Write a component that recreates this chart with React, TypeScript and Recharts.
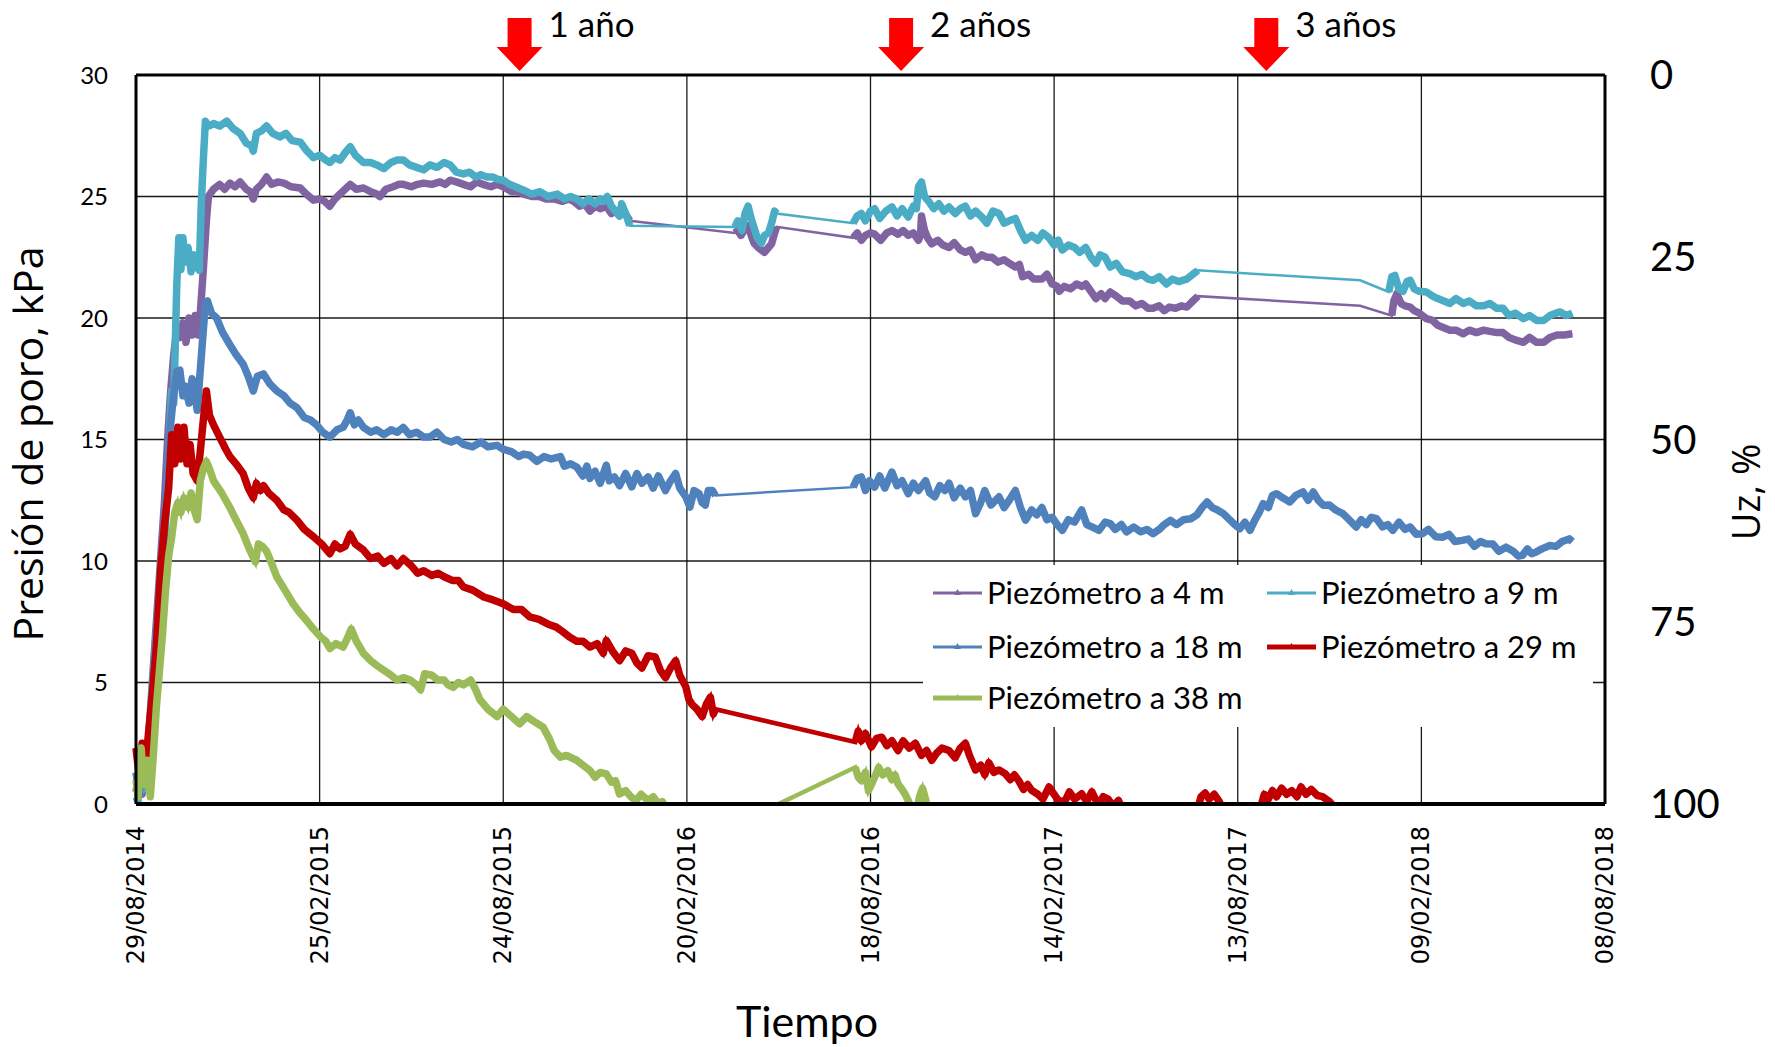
import React from 'react';
import { LineChart, Line, XAxis, YAxis, CartesianGrid, ReferenceDot, ReferenceLine } from 'recharts';

type Pt = [number, number];

// X axis: days since 29/08/2014 (Excel major unit 180 days)
const xTicks = [0, 180, 360, 540, 720, 900, 1080, 1260, 1440];
const xTickLabels = ['29/08/2014', '25/02/2015', '24/08/2015', '20/02/2016', '18/08/2016', '14/02/2017', '13/08/2017', '09/02/2018', '08/08/2018'];
const yTicks = [0, 5, 10, 15, 20, 25, 30];
const uzTicks = [0, 25, 50, 75, 100];

const arrowMarks = [
  { day: 376, label: '1 año' },
  { day: 750, label: '2 años' },
  { day: 1108, label: '3 años' },
];

// Piezómetro a 4 m (segments of continuous logging)
const p4Seg1: Pt[] = [[0,0.5],[3,1.2],[6,0.4],[9,1.5],[12,2.5],[16,5.0],[20,7.5],[24,10.0],[28,12.5],[31,15.0],[34,17.0],[37,18.5],[40,19.5],[43,19.2],[46,19.8],[49,19.0],[52,20.0],[55,19.3],[58,20.1],[61,19.3],[63,20.2],[66,22.0],[69,24.0],[71,25.0],[76,25.3],[82,25.5],[87,25.3],[92,25.55],[97,25.4],[102,25.6],[108,25.3],[112,25.2],[115,24.9],[118,25.3],[123,25.5],[128,25.8],[133,25.5],[139,25.6],[145,25.55],[152,25.4],[161,25.35],[167,25.1],[174,24.85],[180,24.9],[185,24.8],[190,24.6],[195,24.9],[200,25.1],[205,25.3],[210,25.5],[216,25.3],[223,25.35],[230,25.2],[236,25.1],[239,25.0],[245,25.3],[252,25.4],[258,25.5],[262,25.5],[270,25.4],[276,25.5],[282,25.55],[290,25.5],[298,25.6],[303,25.5],[308,25.67],[314,25.6],[321,25.5],[328,25.4],[334,25.6],[340,25.5],[348,25.4],[354,25.5],[360,25.4],[368,25.2],[374,25.2],[380,25.1],[388,25.0],[395,25.0],[402,24.9],[410,24.9],[418,24.8],[424,24.9],[429,24.8],[435,24.6],[440,24.7],[445,24.4],[450,24.6],[455,24.5],[461,24.6],[466,24.3],[470,24.4],[474,24.2],[478,24.4],[484,24.0]];
const p4Seg2: Pt[] = [[587,23.5],[590,23.6],[593,23.4],[596,23.6],[600,23.8],[603,23.4],[606,23.07],[610,22.9],[613,22.8],[616,22.7],[620,22.9],[623,23.05],[626,23.5],[628,23.75]];
const p4Seg3: Pt[] = [[703,23.3],[707,23.5],[711,23.2],[715,23.4],[720,23.5],[724,23.45],[730,23.2],[736,23.5],[741,23.6],[747,23.45],[752,23.6],[757,23.4],[762,23.5],[767,23.2],[769,23.4],[770,24.2],[773,23.6],[776,23.3],[780,23.05],[786,23.2],[791,23.0],[797,22.9],[802,23.1],[808,22.8],[813,22.7],[818,22.8],[823,22.4],[829,22.6],[834,22.5],[839,22.5],[845,22.3],[851,22.4],[856,22.25],[862,22.1],[866,22.2],[869,21.7],[875,21.8],[880,21.6],[888,21.6],[893,21.8],[898,21.4],[903,21.3],[905,21.1],[910,21.3],[916,21.2],[922,21.4],[927,21.3],[931,21.4],[936,21.1],[941,20.8],[946,21.0],[950,20.8],[955,21.07],[961,20.9],[967,20.7],[974,20.7],[980,20.5],[986,20.6],[992,20.4],[997,20.4],[1003,20.5],[1008,20.3],[1013,20.45],[1019,20.4],[1025,20.5],[1030,20.45],[1036,20.7],[1041,20.9]];
const p4Seg4: Pt[] = [[1200,20.5]];
const p4Seg5: Pt[] = [[1231,20.1],[1233,20.7],[1236,21.0],[1240,20.6],[1244,20.5],[1249,20.45],[1253,20.3],[1258,20.2],[1265,19.97],[1271,19.9],[1276,19.7],[1282,19.6],[1288,19.5],[1294,19.5],[1301,19.35],[1307,19.5],[1314,19.4],[1321,19.5],[1327,19.45],[1334,19.4],[1340,19.4],[1346,19.2],[1352,19.1],[1360,19.0],[1366,19.2],[1373,19.0],[1380,19.0],[1386,19.2],[1393,19.3],[1400,19.3],[1408,19.35]];

// Piezómetro a 9 m
const p9Seg1: Pt[] = [[0,0.3],[2,0.1],[4,1.6],[7,0.6],[10,1.5],[13,2.8],[16,4.8],[20,7.1],[23,8.5],[27,9.9],[30,12.5],[33,15.4],[35,17.0],[37,16.5],[40,21.4],[42,23.3],[44,22.0],[46,23.3],[48,22.3],[51,22.9],[54,21.9],[57,22.6],[60,22.1],[62,21.96],[64,24.7],[66,26.5],[68,28.1],[71,27.9],[76,28.0],[82,27.9],[89,28.1],[95,27.8],[102,27.6],[108,27.2],[113,27.1],[115,26.87],[118,27.6],[123,27.7],[128,27.9],[134,27.6],[141,27.45],[147,27.6],[153,27.3],[161,27.24],[167,26.9],[174,26.6],[180,26.7],[186,26.5],[190,26.4],[195,26.6],[200,26.5],[205,26.8],[210,27.05],[215,26.7],[223,26.4],[230,26.4],[236,26.3],[243,26.15],[250,26.4],[256,26.5],[262,26.5],[268,26.3],[275,26.2],[282,26.1],[288,26.3],[295,26.2],[302,26.4],[308,26.3],[314,26.0],[321,25.93],[327,26.0],[333,25.8],[338,25.9],[344,25.8],[350,25.8],[355,25.7],[360,25.67],[366,25.5],[372,25.4],[380,25.26],[388,25.1],[396,25.2],[404,25.0],[413,25.1],[420,24.9],[426,25.0],[432,24.9],[438,24.7],[444,24.9],[450,24.7],[455,24.9],[458,24.8],[462,25.0],[466,24.6],[470,24.4],[474,24.2],[476,24.7],[480,24.3],[484,23.8]];
const p9Seg2: Pt[] = [[587,23.75],[590,24.0],[594,23.6],[597,24.3],[600,24.6],[603,24.1],[606,23.7],[609,23.3],[613,23.07],[616,23.4],[620,23.5],[623,23.9],[626,24.4],[628,24.3]];
const p9Seg3: Pt[] = [[703,23.9],[707,24.2],[711,24.3],[715,24.0],[720,24.4],[724,24.5],[729,24.1],[735,24.4],[741,24.57],[746,24.2],[751,24.5],[757,24.16],[762,24.6],[765,24.5],[767,25.4],[770,25.6],[773,25.0],[777,24.8],[782,24.5],[787,24.7],[792,24.4],[797,24.57],[803,24.3],[808,24.5],[813,24.6],[818,24.2],[823,24.4],[829,24.16],[834,23.9],[840,24.4],[846,24.3],[851,23.9],[856,24.0],[862,24.1],[867,23.6],[872,23.2],[878,23.4],[884,23.2],[889,23.5],[895,23.3],[900,23.0],[904,23.2],[908,22.8],[914,23.0],[920,22.9],[925,22.7],[931,22.9],[936,22.5],[941,22.25],[945,22.6],[950,22.5],[955,22.1],[961,22.25],[967,21.9],[974,21.83],[980,21.7],[986,21.8],[992,21.6],[997,21.55],[1003,21.7],[1010,21.4],[1016,21.6],[1022,21.5],[1030,21.6],[1036,21.8],[1041,21.96]];
const p9Seg4: Pt[] = [[1200,21.55]];
const p9Seg5: Pt[] = [[1228,21.07],[1231,21.7],[1234,21.75],[1238,21.2],[1242,21.1],[1246,21.5],[1249,21.55],[1253,21.2],[1258,21.1],[1265,21.07],[1271,20.9],[1276,20.8],[1282,20.7],[1288,20.6],[1294,20.8],[1301,20.6],[1307,20.7],[1314,20.5],[1321,20.5],[1327,20.6],[1334,20.4],[1340,20.4],[1346,20.1],[1352,20.2],[1360,19.97],[1366,20.1],[1373,19.9],[1380,19.9],[1386,20.1],[1392,20.2],[1396,20.25],[1402,20.1],[1408,20.2]];

// Piezómetro a 18 m
const p18Seg1: Pt[] = [[0,1.3],[3,0.4],[6,1.6],[9,0.9],[12,2.0],[16,4.5],[20,7.0],[24,9.5],[27,10.5],[30,13.0],[33,15.2],[36,16.5],[40,17.8],[43,17.85],[46,16.8],[48,17.2],[52,16.5],[55,17.5],[58,16.8],[60,16.2],[63,17.85],[66,19.5],[68,20.6],[70,20.7],[74,20.2],[79,20.0],[85,19.4],[92,18.9],[98,18.5],[105,18.1],[110,17.6],[115,17.0],[119,17.6],[125,17.7],[131,17.3],[138,17.0],[145,16.8],[151,16.5],[158,16.3],[165,15.9],[171,15.8],[177,15.6],[183,15.3],[190,15.1],[197,15.4],[203,15.5],[207,15.8],[210,16.1],[214,15.6],[218,15.8],[223,15.5],[230,15.3],[236,15.4],[243,15.2],[250,15.4],[256,15.3],[262,15.5],[268,15.2],[275,15.3],[282,15.1],[288,15.1],[295,15.3],[302,15.0],[309,14.9],[315,15.0],[321,14.8],[330,14.7],[338,14.9],[345,14.7],[354,14.76],[360,14.6],[368,14.5],[375,14.3],[380,14.4],[386,14.35],[393,14.1],[400,14.3],[407,14.2],[416,14.3],[420,13.9],[426,14.0],[432,13.87],[438,13.5],[442,13.9],[445,13.4],[450,13.7],[455,13.2],[461,13.94],[464,13.3],[469,13.46],[474,13.1],[480,13.6],[486,13.05],[491,13.6],[496,13.2],[502,13.46],[507,13.0],[512,13.5],[519,12.9],[524,13.3],[529,13.6],[533,13.0],[539,12.64],[543,12.22],[547,12.9],[552,12.77],[555,12.4],[558,12.3],[561,12.9],[565,12.9],[568,12.7]];
const p18Seg2: Pt[] = [[703,13.04],[707,13.4],[711,13.46],[715,12.9],[719,13.3],[724,13.04],[729,13.5],[734,13.0],[741,13.66],[746,13.1],[751,13.3],[757,12.77],[762,13.2],[767,12.9],[774,13.3],[778,12.8],[783,12.64],[788,13.1],[793,12.9],[797,13.2],[802,12.6],[808,13.0],[813,12.64],[818,12.9],[823,11.95],[828,12.4],[832,12.9],[838,12.3],[846,12.64],[851,12.2],[856,12.5],[862,12.9],[867,12.2],[872,11.68],[878,12.1],[883,11.9],[888,12.2],[893,11.7],[898,11.8],[903,11.5],[908,11.26],[914,11.7],[920,11.6],[927,12.1],[932,11.5],[937,11.4],[944,11.26],[950,11.6],[955,11.54],[960,11.3],[966,11.5],[971,11.2],[978,11.4],[985,11.2],[991,11.3],[997,11.12],[1003,11.3],[1008,11.5],[1014,11.67],[1020,11.5],[1027,11.7],[1034,11.74],[1040,11.9],[1045,12.2],[1050,12.43],[1055,12.2],[1060,12.1],[1066,11.95],[1072,11.7],[1077,11.5],[1082,11.33],[1087,11.6],[1092,11.26],[1097,11.7],[1101,12.0],[1105,12.36],[1110,12.2],[1114,12.7],[1118,12.77],[1124,12.6],[1131,12.43],[1137,12.7],[1144,12.84],[1149,12.5],[1154,12.84],[1159,12.5],[1164,12.29],[1170,12.3],[1176,12.1],[1183,11.95],[1189,11.7],[1196,11.4],[1201,11.7],[1206,11.5],[1211,11.8],[1216,11.74],[1222,11.4],[1227,11.5],[1232,11.26],[1238,11.6],[1244,11.3],[1249,11.4],[1255,11.1],[1261,11.12],[1267,11.3],[1274,11.0],[1281,10.98],[1287,11.1],[1293,10.8],[1300,10.85],[1306,10.9],[1312,10.6],[1318,10.8],[1323,10.71],[1330,10.7],[1336,10.4],[1343,10.57],[1350,10.4],[1355,10.2],[1359,10.23],[1364,10.5],[1368,10.3],[1372,10.36],[1378,10.5],[1386,10.64],[1392,10.6],[1398,10.8],[1405,10.91],[1408,10.8]];

// Piezómetro a 29 m
const p29Seg1: Pt[] = [[0,2.3],[3,1.2],[6,2.5],[9,1.0],[12,2.8],[16,4.5],[20,6.5],[24,9.5],[28,11.5],[32,13.0],[35,15.2],[38,14.0],[41,15.5],[44,14.2],[47,15.5],[50,14.0],[53,14.8],[56,13.6],[60,13.3],[63,14.5],[66,15.8],[69,17.0],[72,16.0],[76,15.6],[82,15.1],[88,14.6],[92,14.3],[98,14.0],[105,13.6],[110,13.0],[115,12.6],[118,13.2],[122,12.9],[125,13.1],[130,12.8],[138,12.5],[145,12.1],[150,12.0],[158,11.67],[165,11.3],[174,11.0],[182,10.7],[190,10.3],[195,10.7],[200,10.5],[205,10.6],[210,11.1],[215,10.7],[223,10.45],[230,10.1],[237,10.2],[243,9.9],[250,10.1],[256,9.8],[262,10.1],[270,9.8],[276,9.5],[282,9.6],[290,9.4],[296,9.5],[302,9.35],[310,9.2],[316,9.2],[321,8.93],[330,8.8],[341,8.52],[350,8.4],[360,8.24],[370,8.0],[378,8.0],[386,7.7],[395,7.6],[404,7.4],[412,7.28],[418,7.1],[425,6.87],[432,6.7],[438,6.7],[445,6.46],[452,6.6],[458,6.2],[461,6.73],[467,6.3],[474,5.9],[480,6.3],[486,6.2],[491,5.8],[496,5.6],[502,6.1],[509,6.05],[514,5.5],[519,5.2],[524,5.6],[529,5.9],[533,5.3],[539,4.82],[542,4.3],[545,4.1],[550,3.9],[555,3.6],[559,4.1],[563,4.4],[566,3.7],[568,3.9]];
const p29Seg2: Pt[] = [[705,2.55],[708,3.0],[711,2.6],[715,2.9],[721,2.35],[726,2.7],[731,2.75],[736,2.4],[741,2.6],[747,2.2],[752,2.6],[758,2.3],[764,2.5],[770,2.0],[775,2.2],[780,1.8],[785,2.1],[790,2.3],[797,2.2],[803,1.9],[808,2.3],[813,2.5],[817,2.0],[823,1.4],[828,1.6],[832,1.2],[836,1.7],[841,1.3],[846,1.4],[852,1.25],[857,1.0],[861,1.2],[865,0.98],[870,0.6],[874,0.8],[878,0.56],[884,0.4],[889,0.2],[895,0.7],[900,0.4],[905,0.1],[911,0.15],[915,0.5],[920,0.2],[927,0.42],[932,0.1],[937,0.5],[941,0.15],[944,0.0],[948,0.3],[953,0.2],[958,-0.1],[963,0.15],[968,-0.3],[990,-0.8],[1020,-0.7],[1040,-0.3],[1044,0.3],[1048,0.45],[1052,0.2],[1057,0.4],[1062,0.1],[1066,-0.4],[1090,-0.7],[1102,-0.2],[1106,0.4],[1110,0.2],[1114,0.55],[1118,0.3],[1123,0.65],[1128,0.4],[1133,0.55],[1138,0.3],[1142,0.7],[1147,0.4],[1152,0.6],[1158,0.35],[1163,0.3],[1170,0.1],[1176,-0.2],[1190,-0.6]];

// Piezómetro a 38 m
const p38Seg1: Pt[] = [[0,1.0],[2,0.3],[5,2.3],[8,0.8],[11,1.8],[14,0.3],[17,2.0],[20,4.0],[23,5.5],[26,7.0],[29,8.8],[32,10.2],[35,11.0],[38,12.0],[41,12.4],[44,12.0],[47,12.6],[51,12.2],[54,12.8],[57,12.1],[60,11.7],[63,13.3],[66,13.8],[69,14.1],[72,13.8],[76,13.3],[84,12.8],[92,12.2],[98,11.7],[105,11.13],[111,10.5],[117,9.96],[120,10.7],[124,10.6],[128,10.4],[133,9.9],[138,9.35],[146,8.8],[154,8.24],[160,7.9],[167,7.56],[174,7.2],[181,6.87],[186,6.7],[190,6.4],[196,6.6],[203,6.46],[207,6.8],[211,7.2],[216,6.7],[223,6.2],[230,5.9],[236,5.7],[243,5.5],[250,5.3],[256,5.1],[262,5.2],[269,5.1],[275,4.9],[279,4.7],[283,5.36],[290,5.3],[296,5.1],[302,5.1],[306,4.9],[311,4.8],[316,5.0],[321,4.9],[328,5.1],[333,4.7],[337,4.3],[345,3.9],[354,3.6],[360,3.9],[368,3.6],[376,3.3],[383,3.6],[390,3.4],[399,3.17],[405,2.7],[410,2.2],[416,1.93],[422,2.0],[427,1.9],[432,1.8],[438,1.6],[445,1.38],[450,1.1],[455,1.3],[461,1.24],[466,0.9],[470,0.96],[474,0.41],[480,0.55],[485,0.3],[490,0.14],[495,0.4],[502,0.14],[507,0.3],[512,0.0],[516,0.1],[522,-0.4],[540,-0.9],[555,-1.1],[568,-1.24]];
const p38Seg2: Pt[] = [[705,1.51],[708,1.1],[711,0.96],[715,1.3],[718,0.55],[722,0.9],[725,1.2],[728,1.51],[732,1.2],[737,1.37],[741,1.0],[744,1.2],[747,0.82],[751,0.6],[754,0.4],[757,0.14],[761,-0.3],[765,-0.4],[768,0.3],[771,0.65],[774,0.2],[777,-0.5],[790,-1.0]];

const seriesNames = ['Piezómetro a 4 m', 'Piezómetro a 9 m', 'Piezómetro a 18 m', 'Piezómetro a 29 m', 'Piezómetro a 38 m'];
const seriesColors = ['#8064A2', '#4BACC6', '#4F81BD', '#C00000', '#9BBB59'];
const seriesThin = [2.5, 2.5, 2.5, 4.5, 4.5];
const seriesSegments: Pt[][][] = [
  [p4Seg1, p4Seg2, p4Seg3, p4Seg4, p4Seg5],
  [p9Seg1, p9Seg2, p9Seg3, p9Seg4, p9Seg5],
  [p18Seg1, p18Seg2],
  [p29Seg1, p29Seg2],
  [p38Seg1, p38Seg2],
];

const toThin = (segs: Pt[][]) => segs.flat().map(([x, y]) => ({ x, y }));
const toThick = (segs: Pt[][]) => {
  const out: { x: number; y: number | null }[] = [];
  segs.forEach((s, i) => {
    if (i > 0) {
      const prev = segs[i - 1];
      out.push({ x: (prev[prev.length - 1][0] + s[0][0]) / 2, y: null });
    }
    s.forEach(([x, y]) => out.push({ x, y }));
  });
  return out;
};

// invisible series that binds the right (Uz, %) axis so it renders its ticks
const uzAxisData = uzTicks.map((v) => ({ x: 0, y: v }));

const XTick = (props: any) => {
  const { x, y, payload } = props;
  const idx = xTicks.indexOf(payload.value);
  const label = idx >= 0 ? xTickLabels[idx] : '';
  return (
    <text x={x} y={y} transform={`rotate(-90 ${x} ${y})`} textAnchor="end" dominantBaseline="central"
      fontFamily="DejaVu Sans" fontSize={24} fill="#000">{label}</text>
  );
};

const ArrowShape = (label: string) => (props: any) => {
  const { cx, cy } = props;
  const tipY = cy - 4;
  return (
    <g>
      <rect x={cx - 12} y={cy - 57} width={24} height={30} fill="#FF0000" />
      <polygon points={`${cx - 23},${cy - 28} ${cx + 23},${cy - 28} ${cx},${tipY}`} fill="#FF0000" />
      <text x={cx + 29} y={cy - 38} fontFamily="Lato" fontSize={35} fill="#000">{label}</text>
    </g>
  );
};

const legendLayout = [
  { i: 0, col: 0, row: 0 },
  { i: 1, col: 1, row: 0 },
  { i: 2, col: 0, row: 1 },
  { i: 3, col: 1, row: 1 },
  { i: 4, col: 0, row: 2 },
];

export default function App() {
  const W = 1775;
  const H = 1047;
  const legX = 923, legY = 565, legW = 670, legH = 162;
  const rowY = [28, 82, 133];
  const colX = [10, 344];
  return (
    <div style={{ position: 'absolute', left: 0, top: 0, width: W, height: H, background: '#fff' }}>
      <LineChart width={W} height={H} margin={{ top: 75, right: 50, bottom: 43, left: 36 }}>
        <CartesianGrid stroke="#000" strokeWidth={1.3} strokeOpacity={0.9} />
        <XAxis dataKey="x" type="number" domain={[0, 1440]} ticks={xTicks} interval={0} height={200}
          tick={<XTick />} tickSize={0} tickMargin={22} axisLine={{ stroke: '#000', strokeWidth: 4 }} allowDecimals={false} />
        <YAxis type="number" domain={[0, 30]} ticks={yTicks} width={100} allowDataOverflow
          tickSize={0} tickMargin={28} axisLine={{ stroke: '#000', strokeWidth: 3 }}
          tick={{ fontFamily: 'Lato', fontSize: 24, fill: '#000' }} interval={0} />
        <YAxis yAxisId="right" orientation="right" type="number" domain={[0, 100]} reversed ticks={uzTicks} width={120}
          tickSize={0} tickMargin={45} axisLine={{ stroke: '#000', strokeWidth: 3 }}
          tick={{ fontFamily: 'Lato', fontSize: 40, fill: '#000' }} interval={0} />
        <Line yAxisId="right" data={uzAxisData} dataKey="y" stroke="none" strokeWidth={0} dot={false} activeDot={false}
          isAnimationActive={false} legendType="none" name="uz" />
        {seriesSegments.map((segs, k) => [
          <Line key={`thin${k}`} data={toThin(segs)} dataKey="y" type="linear" stroke={seriesColors[k]}
            strokeWidth={seriesThin[k]} dot={false} activeDot={false} isAnimationActive={false} name={`${seriesNames[k]} thin`} />,
          <Line key={`thick${k}`} data={toThick(segs)} dataKey="y" type="linear" stroke={seriesColors[k]}
            strokeWidth={7.5} dot={false} activeDot={false} isAnimationActive={false} connectNulls={false} name={seriesNames[k]}
            strokeLinejoin="round" />,
        ])}
        <ReferenceLine y={30} stroke="#000" strokeWidth={3} />
        {arrowMarks.map((a) => (
          <ReferenceDot key={a.label} x={a.day} y={30} r={0} ifOverflow="visible" shape={ArrowShape(a.label)} />
        ))}
      </LineChart>
      <svg width={W} height={H} style={{ position: 'absolute', left: 0, top: 0, pointerEvents: 'none' }}>
        <text transform="translate(43,444) rotate(-90)" textAnchor="middle" fontFamily="Open Sans" fontSize={41} fill="#000">Presión de poro, kPa</text>
        <text transform="translate(1760,492) rotate(-90)" textAnchor="middle" fontFamily="Open Sans" fontSize={38} fill="#000">Uz, %</text>
        <text x={807} y={1037} textAnchor="middle" fontFamily="Lato" fontSize={43} fill="#000">Tiempo</text>
        <g transform={`translate(${legX},${legY})`}>
          <rect x={0} y={0} width={legW} height={legH} fill="#fff" />
          {legendLayout.map(({ i, col, row }) => {
            const x0 = colX[col];
            const cy = rowY[row];
            const thick = i >= 3 ? 5 : 3;
            return (
              <g key={i}>
                <line x1={x0} y1={cy} x2={x0 + 49} y2={cy} stroke={seriesColors[i]} strokeWidth={thick} />
                <polygon points={`${x0 + 21},${cy + 2} ${x0 + 28},${cy + 2} ${x0 + 24.5},${cy - 4}`} fill={seriesColors[i]} />
                <text x={x0 + 54} y={cy + 11} fontFamily="Lato" fontSize={31} fill="#000">{seriesNames[i]}</text>
              </g>
            );
          })}
        </g>
      </svg>
    </div>
  );
}
